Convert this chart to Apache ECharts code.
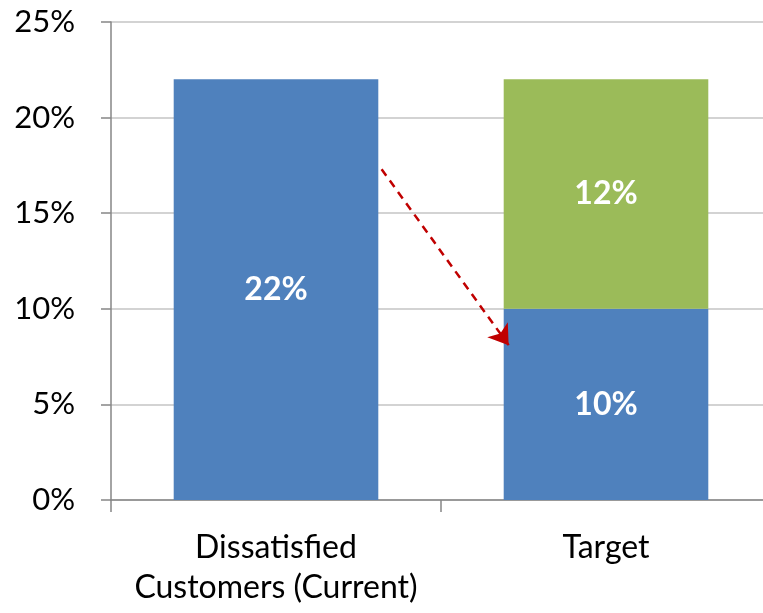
<!DOCTYPE html>
<html>
<head>
<meta charset="utf-8">
<script src="https://cdn.jsdelivr.net/npm/echarts@6/dist/echarts.min.js"></script>
<style>
html,body{margin:0;padding:0;background:#fff}
#main{width:763px;height:613px}
</style>
</head>
<body>
<div id="main"></div>
<script>
var categories = ['Dissatisfied\nCustomers (Current)', 'Target']
var baseValues = [22, 10]
var gapValues = [null, 12]
var yTicks = [0, 5, 10, 15, 20, 25]
// arrow from right edge of bar 1 down to the target bar (x in category units 0..2)
var arrowFrom = [0.82, 17.3]
var arrowTo = [1.205, 8.1]

var myChart = echarts.init(document.getElementById('main'));
var font = 'Lato, "Open Sans", sans-serif'

var option = {
    animation: false,
    grid: {left: 111, top: 22, right: -8, bottom: 113, containLabel: false, outerBoundsMode: 'none'},
    xAxis: [{
        type: 'category',
        data: categories,
        axisLine: {lineStyle: {color: '#868686', width: 1.5}},
        axisTick: {show: true, length: 12, lineStyle: {color: '#868686', width: 1.5}},
        axisLabel: {color: '#000', fontSize: 32, fontFamily: font, margin: 28, lineHeight: 40, interval: 0}
    }, {
        type: 'value', min: 0, max: 2, show: false
    }],
    yAxis: {
        type: 'value',
        min: yTicks[0],
        max: yTicks[yTicks.length - 1],
        interval: 5,
        axisLine: {show: true, lineStyle: {color: '#868686', width: 1.5}},
        axisTick: {show: true, length: 10, lineStyle: {color: '#868686', width: 1.5}},
        splitLine: {lineStyle: {color: '#c4c4c4', width: 1.5}},
        axisLabel: {color: '#000', fontSize: 31, fontFamily: font, margin: 36,
            formatter: function (v) { return v + '%' }}
    },
    series: [{
        name: 'base',
        type: 'bar',
        stack: 'a',
        barWidth: '62%',
        data: baseValues,
        itemStyle: {color: '#4F81BD'},
        label: {show: true, position: 'inside', color: '#fff', fontSize: 32, fontWeight: 'bold',
            fontFamily: font, formatter: '{c}%'}
    }, {
        name: 'gap',
        type: 'bar',
        stack: 'a',
        barWidth: '62%',
        data: gapValues,
        itemStyle: {color: '#9BBB59'},
        label: {show: true, position: 'inside', color: '#fff', fontSize: 32, fontWeight: 'bold',
            fontFamily: font, formatter: '{c}%'}
    }, {
        type: 'lines',
        coordinateSystem: 'cartesian2d',
        xAxisIndex: 1,
        z: 10,
        symbol: ['none', 'arrow'],
        symbolSize: 19,
        lineStyle: {color: '#C00000', width: 2.5, type: [8, 6], opacity: 1},
        data: [{coords: [arrowFrom, arrowTo]}]
    }]
};
myChart.setOption(option);
</script>
</body>
</html>
